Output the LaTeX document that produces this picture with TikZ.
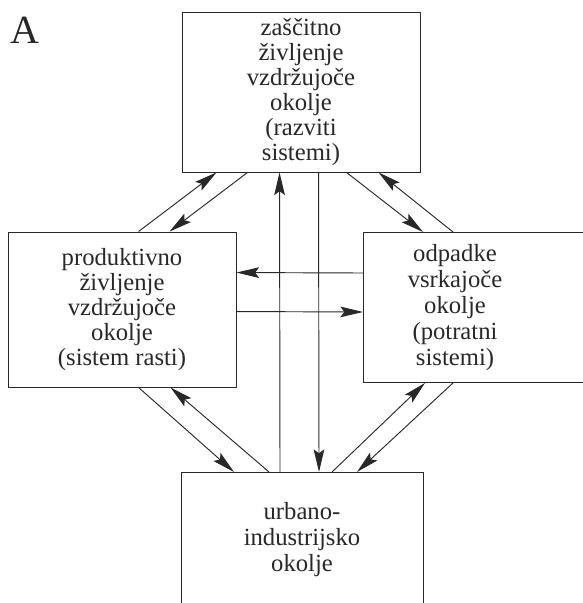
\documentclass[tikz,border=0pt]{standalone}
\usepackage{fontspec}
\setmainfont{Liberation Serif}
\usetikzlibrary{arrows.meta,calc}
\definecolor{ink}{RGB}{40,40,40}
\begin{document}
\begin{tikzpicture}[x=0.75pt,y=-0.75pt,
  box/.style={draw=ink,line width=0.7pt,rectangle,inner sep=0pt,
    font=\fontsize{18.5pt}{18.7pt}\selectfont,text=ink,align=center},
  txt/.style={inner sep=0pt,font=\fontsize{18.5pt}{19.5pt}\selectfont,text=ink,align=center},
  flow/.style={draw=ink,line width=0.7pt,-{Stealth[length=17pt,width=8pt,inset=3pt]}}]
\useasboundingbox[fill=white] (0,0) rectangle (582,603);
\node[text=ink,font=\fontsize{30pt}{32pt}\selectfont,inner sep=0pt] (lab) at (25,30) {A};
\node[box,minimum width=238*0.75pt,minimum height=160*0.75pt] (T) at (301,92)
  {zaščitno\\življenje\\vzdržujoče\\okolje\\(razviti\\sistemi)};
\node[box,minimum width=228*0.75pt,minimum height=155*0.75pt] (L) at (122,309.5)
  {produktivno\\življenje\\vzdržujoče\\okolje\\(sistem rasti)};
\node[box,minimum width=240*0.75pt,minimum height=150*0.75pt,anchor=north west] (R) at (363,232) {};
\node[txt] (Rt) at (455,308) {odpadke\\vsrkajoče\\okolje\\(potratni\\sistemi)};
\node[box,minimum width=242*0.75pt,minimum height=140*0.75pt,anchor=north west] (B) at (181,472) {};
\node[txt] (Bt) at (302,540) {urbano-\\industrijsko\\okolje};
% top-left pair
\draw[flow] ($(L.north west)+(131,0)$) -- ($(T.south west)+(35,0)$);
\draw[flow] ($(T.south west)+(66,0)$) -- ($(L.north west)+(162,0)$);
% top-right pair
\draw[flow] ($(T.south west)+(165,0)$) -- ($(R.north west)+(60,0)$);
\draw[flow] ($(R.north west)+(90,0)$) -- ($(T.south west)+(197,0)$);
% verticals
\draw[flow] ($(B.north west)+(99,0)$) -- ($(T.south west)+(98,0)$);
\draw[flow] ($(T.south west)+(137,0)$) -- ($(B.north west)+(138,0)$);
% horizontals
\draw[flow] ($(R.north west)+(0,41)$) -- ($(L.north east)+(0,41)$);
\draw[flow] ($(L.north east)+(0,80)$) -- ($(R.north west)+(0,80)$);
% bottom-left pair
\draw[flow] ($(L.south west)+(131,0)$) -- ($(B.north west)+(53,0)$);
\draw[flow] ($(B.north west)+(88,0)$) -- ($(L.south west)+(163,0)$);
% bottom-right pair
\draw[flow] ($(B.north west)+(151,0)$) -- ($(R.south west)+(62,0)$);
\draw[flow] ($(R.south west)+(90,0)$) -- ($(B.north west)+(176,0)$);
\end{tikzpicture}
\end{document}
